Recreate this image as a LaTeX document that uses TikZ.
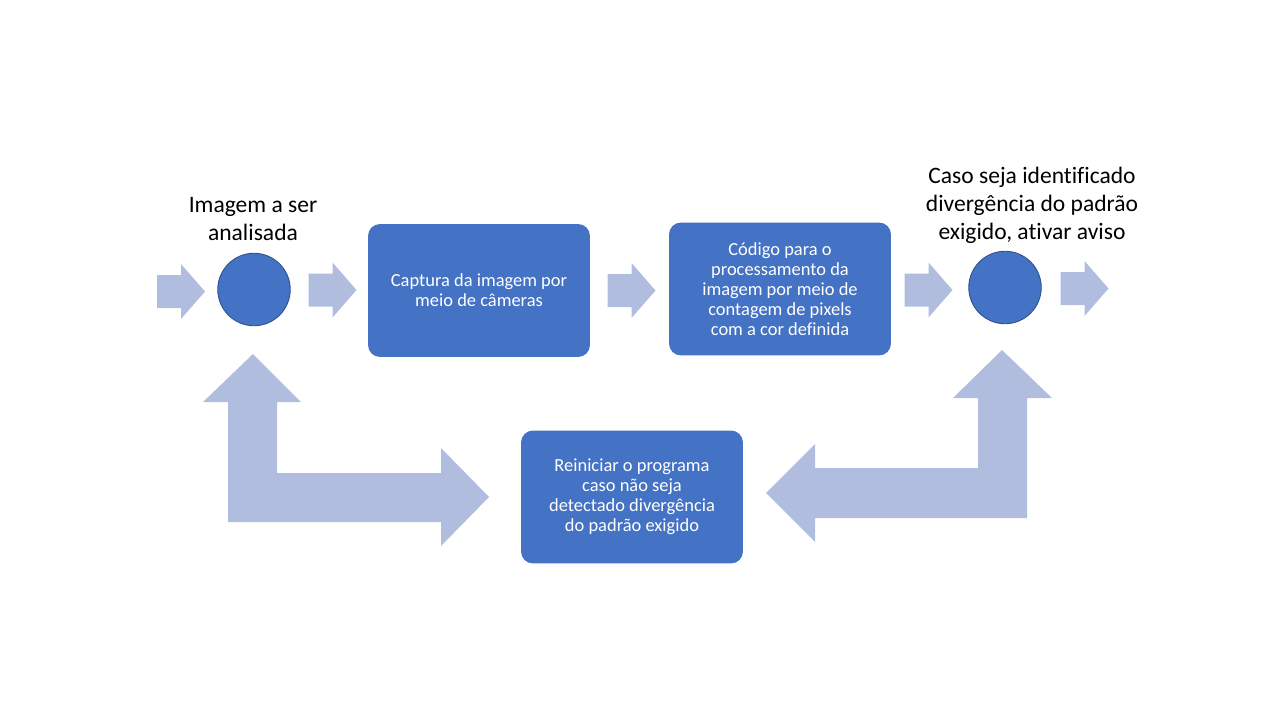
\documentclass[tikz,border=0pt]{standalone}
\usepackage{fontspec}
\setmainfont{Carlito}[Ligatures=CommonOff]
\usepackage{tikz}
\usetikzlibrary{calc}

\definecolor{boxblue}{HTML}{4472C4}
\definecolor{rimblue}{HTML}{2F528F}
\definecolor{arrowblue}{HTML}{B0BDDF}

\tikzset{
  stepbox/.style={rectangle, rounded corners=0.24cm, fill=boxblue, text=white,
    minimum width=4.44cm, minimum height=2.66cm, align=center,
    font=\fontsize{10.5}{11.4}\selectfont},
  dot/.style={circle, fill=boxblue, draw=rimblue, line width=0.5pt,
    minimum size=1.45cm, inner sep=0pt},
  caption/.style={align=center, font=\fontsize{13.4}{15.9}\selectfont},
  fatarrow/.style={fill=arrowblue},
  smallarrow/.pic={
    \fill[fatarrow] (-24,-16.5) -- (0,-16.5) -- (0,-27.5) -- (24,0)
      -- (0,27.5) -- (0,16.5) -- (-24,16.5) -- cycle;}
}

\begin{document}
\begin{tikzpicture}[x=0.02cm, y=-0.02cm]
            \useasboundingbox (0,0) rectangle (1280,720);
            % nodes
            \node[dot] (in) at (254,289.5) {};
            \node[stepbox] (capture) at (479,290.5) {Captura da imagem por\\meio de câmeras};
            \node[stepbox] (process) at (780,289) {Código para o\\processamento da\\imagem por meio de\\contagem de pixels\\com a cor definida};
            \node[dot] (out) at (1005,287.5) {};
            \node[stepbox] (reset) at (632,497) {Reiniciar o programa\\caso não seja\\detectado divergência\\do padrão exigido};
            \node[caption] (inlabel) at (253,219) {Imagem a ser\\analisada};
            \node[caption] (outlabel) at (1032,205.5) {Caso seja identificado\\divergência do padrão\\exigido, ativar aviso};
            % small arrows
            \pic at (181,291.5) {smallarrow};
            \pic at (332.5,290) {smallarrow};
            \pic at (631.5,290.5) {smallarrow};
            \pic at (928.5,290) {smallarrow};
            \pic at (1084.5,288.5) {smallarrow};
            % return arrows
            \fill[fatarrow] (228,402) -- (203,402) -- (253,354) -- (301,402) -- (277,402)
              -- (277,473) -- (441,473) -- (441,448) -- (489,497) -- (441,546)
              -- (441,522) -- (228,522) -- cycle;
            \fill[fatarrow] (978,398) -- (953,398) -- (1002,350) -- (1052,398) -- (1027,398)
              -- (1027,518) -- (815,518) -- (815,542) -- (766,493) -- (815,444)
              -- (815,468) -- (978,468) -- cycle;
        \end{tikzpicture}
\end{document}
